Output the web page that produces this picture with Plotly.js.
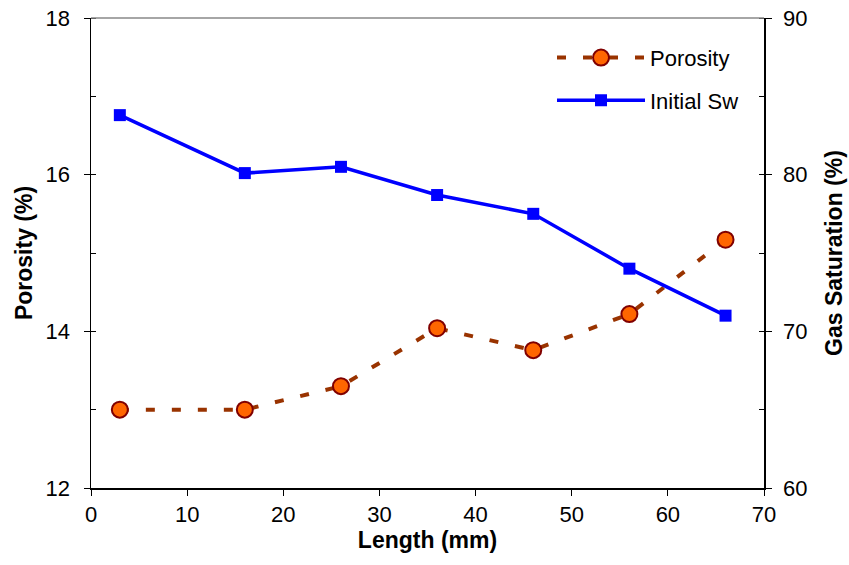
<!DOCTYPE html>
<html>
<head>
<meta charset="utf-8">
<script src="https://cdn.plot.ly/plotly-3.0.1.min.js"></script>
<style>html,body{margin:0;padding:0;background:#fff;}#chart{width:849px;height:565px;}</style>
</head>
<body>
<div id="chart"></div>
<script>
const lengthMM = [3, 16, 26, 36, 46, 56, 66];
const porosity = [13.0, 13.0, 13.3, 14.04, 13.76, 14.22, 15.17];
const initialSw = [83.8, 80.1, 80.5, 78.7, 77.5, 74.0, 71.0];

const traces = [
  {
    x: lengthMM, y: porosity, name: 'Porosity', type: 'scatter', mode: 'lines+markers',
    yaxis: 'y', legendgroup: 'a',
    line: {color: '#993300', width: 4, dash: '9px,17px'},
    marker: {symbol: 'circle', size: 16, color: '#FF6600', line: {color: '#800000', width: 2}}
  },
  {
    x: lengthMM, y: initialSw, name: 'Initial Sw', type: 'scatter', mode: 'lines+markers',
    yaxis: 'y2', legendgroup: 'b',
    line: {color: '#0000FF', width: 3.5},
    marker: {symbol: 'square', size: 12, color: '#0000FF'}
  }
];

const fam = 'Liberation Sans, Arial, sans-serif';
const tickFont = {family: fam, size: 22, color: '#000'};
const titleFont = {family: fam, size: 23, color: '#000', weight: 'bold'};

const layout = {
  width: 849, height: 565,
  margin: {l: 91, r: 85, t: 18, b: 77},
  paper_bgcolor: '#fff', plot_bgcolor: '#fff',
  showlegend: true,
  legend: {x: 0.685, xanchor: 'left', y: 0.96, yanchor: 'top', bgcolor: 'rgba(0,0,0,0)',
           font: {family: fam, size: 22, color: '#000'}, itemwidth: 88,
           traceorder: 'grouped', tracegroupgap: 11},
  xaxis: {
    range: [0, 70], dtick: 10, tick0: 0, showgrid: false, zeroline: false,
    showline: true, linecolor: '#000', linewidth: 1.5,
    ticks: 'outside', ticklen: 6, tickcolor: '#000', tickfont: tickFont,
    title: {text: 'Length (mm)', font: titleFont, standoff: 2}
  },
  yaxis: {
    range: [12, 18], dtick: 2, tick0: 12, showgrid: false, zeroline: false,
    showline: true, linecolor: '#000', linewidth: 1.5,
    ticks: 'outside', ticklen: 6, tickcolor: '#000', tickfont: tickFont,
    ticklabelstandoff: 9,
    minor: {ticks: 'inside', dtick: 1, ticklen: 5, tickcolor: '#000', showgrid: false},
    title: {text: 'Porosity (%)', font: titleFont, standoff: 6}
  },
  yaxis2: {
    range: [60, 90], dtick: 10, tick0: 60, overlaying: 'y', side: 'right',
    showgrid: false, zeroline: false,
    showline: true, linecolor: '#000', linewidth: 1.5,
    ticks: 'outside', ticklen: 6, tickcolor: '#000', tickfont: tickFont,
    ticklabelstandoff: 7,
    minor: {ticks: 'inside', dtick: 5, ticklen: 5, tickcolor: '#000', showgrid: false},
    title: {text: 'Gas Saturation (%)', font: titleFont, standoff: 19}
  },
  shapes: [
    {type: 'line', xref: 'paper', yref: 'paper', x0: 0, x1: 1, y0: 1, y1: 1,
     line: {color: '#888', width: 1.5}}
  ]
};

Plotly.newPlot('chart', traces, layout, {displayModeBar: false, staticPlot: true});
</script>
</body>
</html>
